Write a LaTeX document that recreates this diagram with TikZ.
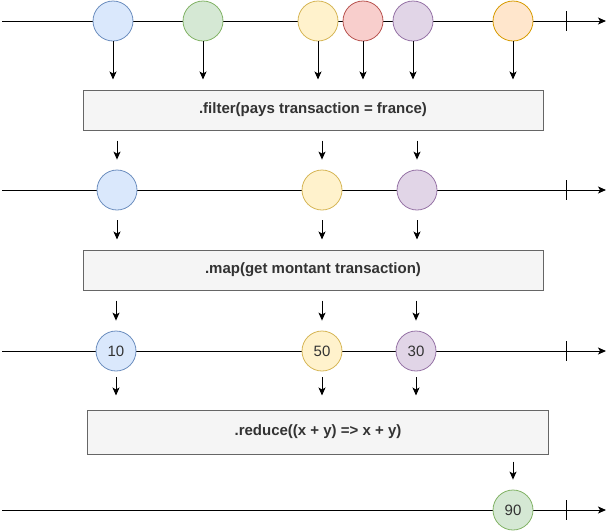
\documentclass[tikz,border=0pt]{standalone}
\usepackage{fontspec}
\setmainfont{Liberation Sans}
\usetikzlibrary{arrows.meta}
\definecolor{bluefill}{HTML}{DAE8FC}\definecolor{blueline}{HTML}{6C8EBF}
\definecolor{greenfill}{HTML}{D5E8D4}\definecolor{greenline}{HTML}{82B366}
\definecolor{yellowfill}{HTML}{FFF2CC}\definecolor{yellowline}{HTML}{D6B656}
\definecolor{redfill}{HTML}{F8CECC}\definecolor{redline}{HTML}{B85450}
\definecolor{purplefill}{HTML}{E1D5E7}\definecolor{purpleline}{HTML}{9673A6}
\definecolor{orangefill}{HTML}{FFE6CC}\definecolor{orangeline}{HTML}{D79B00}
\definecolor{opfill}{HTML}{F5F5F5}\definecolor{opline}{HTML}{666666}
\definecolor{optext}{HTML}{333333}
\tikzset{   bead/.style = {circle, line width = 0.8pt, minimum size = 40pt, inner sep = 0pt, text = optext, font = \fontsize{15}{18}\selectfont},
            op/.style = {rectangle, draw = opline, fill = opfill, line width = 1pt, text = optext, font = \fontsize{15}{18}\selectfont\bfseries},
            arr/.style = {-{Stealth[length = 8pt, width = 7pt, inset = 2pt]}, line width = 1pt},
            axis/.style = {-{Stealth[length = 8pt, width = 7pt, inset = 2pt]}, line width = 1pt}}

\begin{document}
\begin{tikzpicture}[x=1pt, y=-1pt]
                        \useasboundingbox (0,0) rectangle (616,531);
                        \foreach \y in {21,190,351,510} {
                          \draw[axis] (2,\y) -- (606,\y);
                          \draw[line width=1pt] (566,\y-10) -- (566,\y+10);
                        }
                        \node[bead, draw=blueline, fill=bluefill] (a1) at (113,21) {};
                        \node[bead, draw=greenline, fill=greenfill] (a2) at (203,21) {};
                        \node[bead, draw=yellowline, fill=yellowfill] (a3) at (318,21) {};
                        \node[bead, draw=redline, fill=redfill] (a4) at (363,21) {};
                        \node[bead, draw=purpleline, fill=purplefill] (a5) at (413,21) {};
                        \node[bead, draw=orangeline, fill=orangefill] (a6) at (513,21) {};
                        \node[op, minimum width=460pt, minimum height=40pt] (filter) at (313,110) {.filter(pays transaction = france)};
                        \node[bead, draw=blueline, fill=bluefill] (b1) at (117,190) {};
                        \node[bead, draw=yellowline, fill=yellowfill] (b2) at (322,190) {};
                        \node[bead, draw=purpleline, fill=purplefill] (b3) at (417,190) {};
                        \node[op, minimum width=460pt, minimum height=40pt] (map) at (313,270) {.map(get montant transaction)};
                        \node[bead, draw=blueline, fill=bluefill] (c1) at (116,351) {10};
                        \node[bead, draw=yellowline, fill=yellowfill] (c2) at (322,351) {50};
                        \node[bead, draw=purpleline, fill=purplefill] (c3) at (416,351) {30};
                        \node[op, minimum width=461pt, minimum height=44pt] (reduce) at (318,432) {.reduce((x + y) => x + y)};
                        \node[bead, draw=greenline, fill=greenfill] (d1) at (513,510) {90};
                        \foreach \n in {a1,a2,a3,a4,a5,a6}
                          \draw[arr] (\n.south) -- ([yshift=10pt]\n |- filter.north);
                        \foreach \n in {b1,b2,b3} {
                          \draw[arr] ([yshift=-10pt]\n |- filter.south) -- ([yshift=10pt]\n.north);
                          \draw[arr] ([yshift=-10pt]\n.south) -- ([yshift=10pt]\n |- map.north);
                        }
                        \foreach \n in {c1,c2,c3} {
                          \draw[arr] ([yshift=-10pt]\n |- map.south) -- ([yshift=10pt]\n.north);
                          \draw[arr] ([yshift=-6pt]\n.south) -- ([yshift=14pt]\n |- reduce.north);
                        }
                        \draw[arr] ([yshift=-7pt]d1 |- reduce.south) -- ([yshift=10pt]d1.north);
                      \end{tikzpicture}
\end{document}
